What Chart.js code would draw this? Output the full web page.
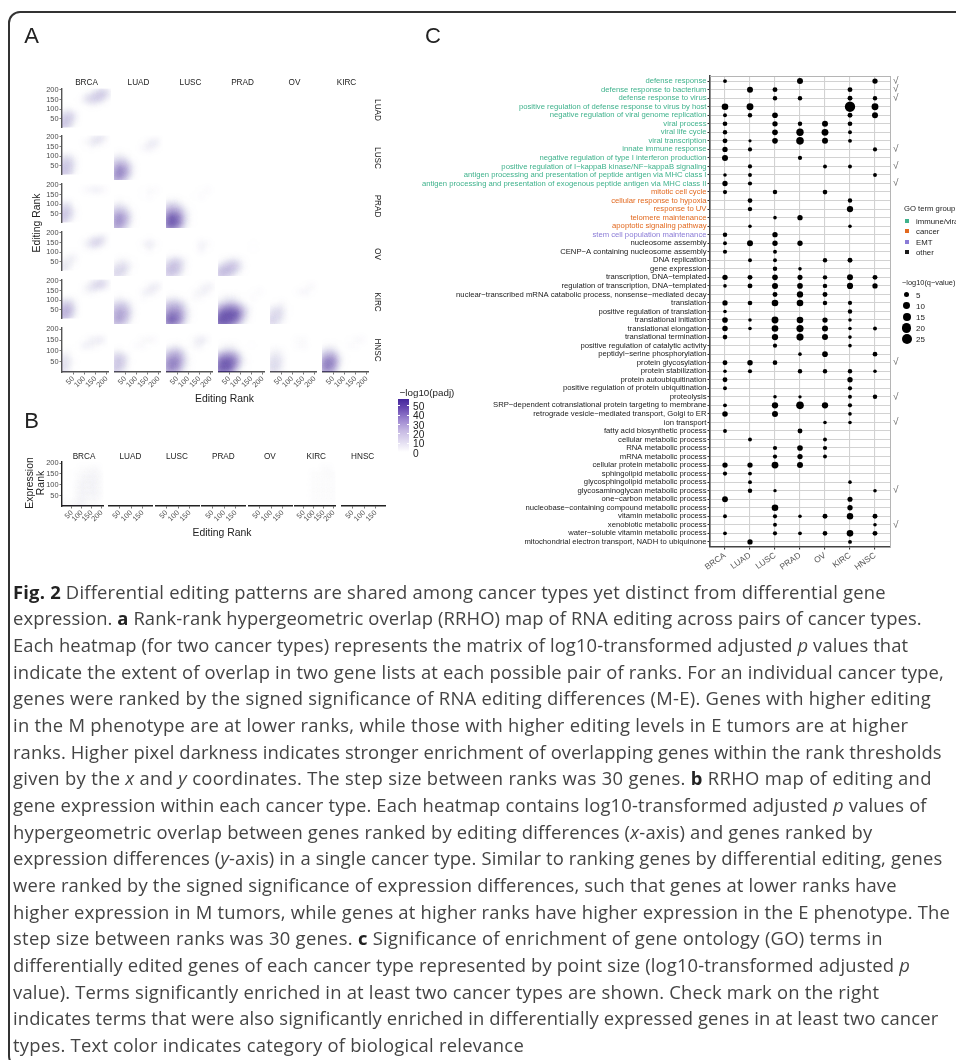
<!DOCTYPE html>
<html><head><meta charset="utf-8">
<script src="https://cdn.jsdelivr.net/npm/chart.js@4/dist/chart.umd.js"></script>
<style>
html,body{margin:0;padding:0;background:#fff;overflow:hidden;width:956px;height:1060px}
#page{position:relative;width:956px;height:1060px;overflow:hidden;font-family:"Liberation Sans",sans-serif;filter:blur(.3px)}
#frame{position:absolute;left:7.5px;top:10.5px;width:1000px;height:1057px;border:2px solid #333;border-radius:12px;box-sizing:border-box}
canvas{position:absolute}
.t{position:absolute;white-space:nowrap;transform:translate(-50%,-50%);color:#222}
.l{position:absolute;white-space:nowrap;transform:translate(0,-50%);color:#222}
.cap{position:absolute;left:13px;white-space:nowrap;font-family:"Open Sans",sans-serif;font-size:18.4px;color:#444;transform:translate(0,-50%);line-height:22px}
.cap b{color:#222}
</style></head><body><div id="page"><div id="frame"></div></div>
<script>
/* ---------- panel labels ---------- */
const cancers = ["BRCA","LUAD","LUSC","PRAD","OV","KIRC","HNSC"];
const rankTicks = [50,100,150,200];
const rankTicksShort = [50,100,150];
const gridRanks = [200,175,150,125,100,75,50,25,0]; // rows of every cell matrix, top to bottom
const gridCols  = [0,25,50,75,100,125,150,175,200];
const colorbarTicks = [50,40,30,20,10,0];
const sizeLegend = [5,10,15,20,25];

/* ---------- panel A: -log10(padj) cells, row cancer vs column cancer ---------- */
const Z=[0,0,0,0,0,0,0,0,0];
const LUAD_BRCA=[[0,0,0,0,0,1,4,8,3],[0,0,0,0,2,7,13,14,5],[0,0,0,1,8,12,12,6,0],[0,0,0,0,1,3,2,0,0],[0,2,1,0,0,0,0,0,0],[5,11,6,0,0,0,0,0,0],[9,14,7,0,0,0,0,0,0],[12,13,3,0,0,0,0,0,0],[12,8,1,0,0,0,0,0,0]];
const LUSC_BRCA=[[0,0,0,0,0,2,6,6,1],[0,0,0,0,2,6,8,3,0],[0,0,0,0,1,2,1,0,0],Z,[3,6,2,0,0,0,0,0,0],[8,12,5,0,0,0,0,0,0],[11,14,6,0,0,0,0,0,0],[12,13,4,0,0,0,0,0,0],[13,11,2,0,0,0,0,0,0]];
const LUSC_LUAD=[Z,[0,0,0,0,0,1,4,7,1],[0,0,0,0,0,3,6,2,0],[1,2,1,0,0,0,0,0,0],[6,9,6,1,0,0,0,0,0],[14,20,16,4,0,0,0,0,0],[22,38,24,6,0,0,0,0,0],[25,36,19,4,0,0,0,0,0],[22,20,8,1,0,0,0,0,0]];
const PRAD_BRCA=[Z,[0,0,0,0,2,4,5,3,0],Z,Z,[4,7,1,0,0,0,0,0,0],[9,11,3,0,0,0,0,0,0],[12,14,4,0,0,0,0,0,0],[13,9,2,0,0,0,0,0,0],[10,4,0,0,0,0,0,0,0]];
const PRAD_LUAD=[Z,[0,0,0,0,0,1,2,2,0],[0,0,0,0,0,1,2,0,0],[1,2,1,0,0,0,0,0,0],[6,9,5,1,0,0,0,0,0],[15,19,13,3,0,0,0,0,0],[24,34,20,4,0,0,0,0,0],[24,30,15,3,0,0,0,0,0],[23,20,8,1,0,0,0,0,0]];
const PRAD_LUSC=[Z,[0,0,0,0,0,0,1,2,0],[0,0,0,0,0,1,2,0,0],[2,4,3,1,0,0,0,0,0],[10,16,12,4,1,0,0,0,0],[20,30,26,10,2,0,0,0,0],[32,58,44,13,2,0,0,0,0],[38,66,42,11,2,0,0,0,0],[30,36,20,5,1,0,0,0,0]];
const OV_BRCA=[Z,[0,0,0,0,0,2,5,6,0],[0,0,0,0,3,10,14,6,0],[0,0,0,0,2,4,3,0,0],[0,1,1,0,0,0,0,0,0],[1,3,4,0,0,0,0,0,0],[3,6,3,0,0,0,0,0,0],[6,6,1,0,0,0,0,0,0],[5,2,0,0,0,0,0,0,0]];
const OV_LUAD=[Z,[0,0,0,0,0,0,1,0,0],[0,0,0,0,0,2,7,2,0],[0,0,0,0,0,1,3,1,0],Z,[1,3,3,1,0,0,0,0,0],[4,9,9,2,0,0,0,0,0],[9,12,7,1,0,0,0,0,0],[9,7,3,0,0,0,0,0,0]];
const OV_LUSC=[Z,Z,[0,0,0,0,0,0,4,2,0],[0,0,0,0,0,0,4,1,0],[0,1,1,0,0,0,0,0,0],[3,9,10,4,0,0,0,0,0],[10,17,16,5,0,0,0,0,0],[13,17,13,3,0,0,0,0,0],[11,10,6,1,0,0,0,0,0]];
const OV_PRAD=[Z,Z,[0,0,0,0,0,0,1,0,0],[0,0,0,0,0,0,1,0,0],Z,[0,2,5,6,2,0,0,0,0],[4,12,17,16,5,0,0,0,0],[14,19,18,9,2,0,0,0,0],[13,13,8,2,0,0,0,0,0]];
const KIRC_BRCA=[[0,0,0,0,0,2,6,8,2],[0,0,0,0,2,8,12,10,2],[0,0,0,0,3,5,2,0,0],Z,[3,6,3,0,0,0,0,0,0],[11,14,6,0,0,0,0,0,0],[15,20,8,0,0,0,0,0,0],[17,17,5,0,0,0,0,0,0],[16,10,2,0,0,0,0,0,0]];
const KIRC_LUAD=[Z,[0,0,0,0,0,0,3,7,2],[0,0,0,0,0,3,7,3,0],[1,2,1,0,0,2,1,0,0],[6,10,8,2,0,0,0,0,0],[14,19,16,4,0,0,0,0,0],[19,26,20,5,0,0,0,0,0],[20,26,15,3,0,0,0,0,0],[17,14,7,1,0,0,0,0,0]];
const KIRC_LUSC=[Z,[0,0,0,0,0,0,2,5,3],[0,0,0,0,0,2,5,4,0],[1,3,2,1,0,3,2,0,0],[9,13,12,6,1,0,0,0,0],[18,24,24,11,2,0,0,0,0],[26,38,36,15,3,0,0,0,0],[36,56,40,13,2,0,0,0,0],[30,36,22,6,1,0,0,0,0]];
const KIRC_PRAD=[Z,Z,[0,0,0,0,0,0,1,2,0],[1,3,4,3,1,1,2,0,0],[4,9,12,10,4,1,0,0,0],[16,30,38,32,16,5,0,0,0],[36,60,80,62,24,5,0,0,0],[55,78,74,44,14,3,0,0,0],[44,50,36,18,5,1,0,0,0]];
const KIRC_OV=[Z,[0,0,0,0,0,0,1,3,0],[0,0,0,0,0,2,4,1,0],Z,[0,1,2,0,0,0,0,0,0],[3,7,6,1,0,0,0,0,0],[7,11,8,1,0,0,0,0,0],[10,11,5,0,0,0,0,0,0],[9,7,2,0,0,0,0,0,0]];
const HNSC_BRCA=[Z,Z,[0,0,0,0,1,4,6,7,1],[0,0,0,1,5,5,3,0,0],[1,2,0,0,0,0,0,0,0],[6,6,1,0,0,0,0,0,0],[8,8,2,0,0,0,0,0,0],[9,7,1,0,0,0,0,0,0],[7,4,0,0,0,0,0,0,0]];
const HNSC_LUAD=[Z,Z,[0,0,0,0,0,2,3,3,0],[0,0,0,0,2,3,1,0,0],[2,3,1,0,0,0,0,0,0],[10,13,7,0,0,0,0,0,0],[13,17,9,1,0,0,0,0,0],[14,15,6,0,0,0,0,0,0],[12,8,2,0,0,0,0,0,0]];
const HNSC_LUSC=[Z,Z,[0,0,0,0,0,2,7,5,0],[1,2,3,1,0,3,5,1,0],[6,13,14,7,1,0,0,0,0],[16,26,28,14,2,0,0,0,0],[26,40,38,15,3,0,0,0,0],[26,40,30,10,2,0,0,0,0],[20,24,16,4,0,0,0,0,0]];
const HNSC_PRAD=[Z,Z,Z,[1,2,3,2,0,0,1,0,0],[3,8,10,8,2,0,0,0,0],[20,32,36,26,8,1,0,0,0],[38,60,68,40,10,2,0,0,0],[48,72,58,26,5,1,0,0,0],[36,44,30,10,1,0,0,0,0]];
const HNSC_OV=[Z,Z,[0,0,0,0,0,2,2,0,0],[0,0,0,0,0,2,3,0,0],[2,4,2,0,0,0,0,0,0],[5,8,5,0,0,0,0,0,0],[7,11,6,0,0,0,0,0,0],[8,11,5,0,0,0,0,0,0],[6,7,2,0,0,0,0,0,0]];
const HNSC_KIRC=[Z,Z,[0,0,0,0,0,1,2,3,0],[1,2,2,1,0,2,2,0,0],[5,10,9,2,0,0,0,0,0],[14,24,24,7,1,0,0,0,0],[26,44,38,9,1,0,0,0,0],[28,42,28,5,0,0,0,0,0],[22,24,14,2,0,0,0,0,0]];
const panelA=[[LUAD_BRCA],[LUSC_BRCA,LUSC_LUAD],[PRAD_BRCA,PRAD_LUAD,PRAD_LUSC],[OV_BRCA,OV_LUAD,OV_LUSC,OV_PRAD],[KIRC_BRCA,KIRC_LUAD,KIRC_LUSC,KIRC_PRAD,KIRC_OV],[HNSC_BRCA,HNSC_LUAD,HNSC_LUSC,HNSC_PRAD,HNSC_OV,HNSC_KIRC]];
const rowsA=["LUAD","LUSC","PRAD","OV","KIRC","HNSC"];
const colsA=["BRCA","LUAD","LUSC","PRAD","OV","KIRC"];

/* ---------- panel B ---------- */
const B_BRCA=[Z,[0,0,0,0,2,2,3,3,0],[0,0,1,2,3,4,4,4,2],[0,0,1,2,4,4,5,4,2],[0,0,1,3,5,4,5,4,2],[0,0,1,3,5,4,5,4,2],[0,0,1,3,5,4,4,4,2],[2,2,2,4,5,3,3,3,0],[3,3,3,4,5,2,2,2,0]];
const B_KIRC=[Z,[0,0,0,0,0,0,2,2,0],[0,0,0,0,2,2,2,3,2],[0,0,0,0,2,2,2,2,2],[0,0,0,0,2,2,2,2,2],[0,0,0,0,2,2,2,2,2],[0,0,0,0,2,2,2,2,2],[0,0,0,0,2,2,2,2,2],Z];
const panelB={BRCA:B_BRCA,KIRC:B_KIRC};

/* ---------- panel C ---------- */
const termNames=["defense response","defense response to bacterium","defense response to virus","positive regulation of defense response to virus by host","negative regulation of viral genome replication","viral process","viral life cycle","viral transcription","innate immune response","negative regulation of type I interferon production","positive regulation of I−kappaB kinase/NF−kappaB signaling","antigen processing and presentation of peptide antigen via MHC class I","antigen processing and presentation of exogenous peptide antigen via MHC class II","mitotic cell cycle","cellular response to hypoxia","response to UV","telomere maintenance","apoptotic signaling pathway","stem cell population maintenance","nucleosome assembly","CENP−A containing nucleosome assembly","DNA replication","gene expression","transcription, DNA−templated","regulation of transcription, DNA−templated","nuclear−transcribed mRNA catabolic process, nonsense−mediated decay","translation","positive regulation of translation","translational initiation","translational elongation","translational termination","positive regulation of catalytic activity","peptidyl−serine phosphorylation","protein glycosylation","protein stabilization","protein autoubiquitination","positive regulation of protein ubiquitination","proteolysis","SRP−dependent cotranslational protein targeting to membrane","retrograde vesicle−mediated transport, Golgi to ER","ion transport","fatty acid biosynthetic process","cellular metabolic process","RNA metabolic process","mRNA metabolic process","cellular protein metabolic process","sphingolipid metabolic process","glycosphingolipid metabolic process","glycosaminoglycan metabolic process","one−carbon metabolic process","nucleobase−containing compound metabolic process","vitamin metabolic process","xenobiotic metabolic process","water−soluble vitamin metabolic process","mitochondrial electron transport, NADH to ubiquinone"];
const termGroupCounts=[["immune/viral",13],["cancer",5],["EMT",1],["other",36]];
const groupColors={"immune/viral":"#3fb28c","cancer":"#e2691f","EMT":"#8a7bd6","other":"#1a1a1a"};
const checkedTerms=[0,1,2,8,10,12,33,37,40,48,52];
const qValues=[
[2,0,0,7,0,0,5],[0,7,4,0,0,4,0],[0,0,3,3,0,4,3],[9,10,0,0,0,27,10],[2,3,6,0,0,4,7],
[3.5,0,5,3,7,3.5,0],[3,0,6,12,10,2,0],[4,1,6,13,7,2,0],[5,2.5,0,0,0,0,2.5],[7,0,0,2.5,0,0,0],
[0,2.5,0,0,2,2,0],[1.5,2,0,0,0,0,2],[5,2.5,0,0,0,0,0],[2.5,0,3,0,3.5,0,0],[0,3.5,0,0,0,3,0],
[0,3,0,0,0,8,0],[0,0,1.5,5,0,0,0],[0,1.5,0,0,0,1.5,0],[3,0,5,0,0,0,0],[2,7,5,5,0,0,0],
[2.5,0,2,0,0,0,0],[0,2,2,0,3,4,0],[0,0,3,1.5,0,0,0],[5,4,6,4.5,3,7,4],[1.5,4,7,6,3,7.5,5],
[0,0,4,8,4,0,0],[5,3.5,9,9,3,2.5,0],[1.5,0,0,0,0,3,0],[6,1.5,10,9,5,1.5,0],[5.5,1.5,9,11,7,1.5,2],
[3.5,0,8,11,7,1.5,0],[0,0,2.5,0,0,1.5,0],[0,0,0,1.5,6,0,3.5],[4,5.5,3.5,0,0,0,0],[1.5,2.5,0,3,3,3,1.5],
[4,0,0,0,0,5,0],[2,0,0,0,0,2.5,0],[0,0,1.5,1.2,0,2,3],[2,0,8,13,8,2.5,0],[5.5,0,7,0,0,1.5,0],
[0,0,0,0,1.5,1.5,0],[2,0,0,4,0,0,0],[0,2,0,0,2,0,0],[0,0,2.5,6,2.5,0,0],[0,0,2.5,5,2,0,0],
[5,5,10,7,0,0,0],[2.5,2,0,0,0,0,0],[0,2,0,0,0,1.5,0],[0,3,1.2,0,0,0,1.5],[6.5,0,0,0,0,4.5,0],
[0,0,9,0,0,5,0],[2,0,2.5,1.5,4,8.5,4],[0,0,2,0,0,0,1.5],[1.8,0,2.5,1.8,3.5,9,4],[0,5,0,0,0,2,0]
];

/* ---------- caption ---------- */
const captionLines=[
"<b>Fig. 2</b> Differential editing patterns are shared among cancer types yet distinct from differential gene",
"expression. <b>a</b> Rank-rank hypergeometric overlap (RRHO) map of RNA editing across pairs of cancer types.",
"Each heatmap (for two cancer types) represents the matrix of log10-transformed adjusted <i>p</i> values that",
"indicate the extent of overlap in two gene lists at each possible pair of ranks. For an individual cancer type,",
"genes were ranked by the signed significance of RNA editing differences (M-E). Genes with higher editing",
"in the M phenotype are at lower ranks, while those with higher editing levels in E tumors are at higher",
"ranks. Higher pixel darkness indicates stronger enrichment of overlapping genes within the rank thresholds",
"given by the <i>x</i> and <i>y</i> coordinates. The step size between ranks was 30 genes. <b>b</b> RRHO map of editing and",
"gene expression within each cancer type. Each heatmap contains log10-transformed adjusted <i>p</i> values of",
"hypergeometric overlap between genes ranked by editing differences (<i>x</i>-axis) and genes ranked by",
"expression differences (<i>y</i>-axis) in a single cancer type. Similar to ranking genes by differential editing, genes",
"were ranked by the signed significance of expression differences, such that genes at lower ranks have",
"higher expression in M tumors, while genes at higher ranks have higher expression in the E phenotype. The",
"step size between ranks was 30 genes. <b>c</b> Significance of enrichment of gene ontology (GO) terms in",
"differentially edited genes of each cancer type represented by point size (log10-transformed adjusted <i>p</i>",
"value). Terms significantly enriched in at least two cancer types are shown. Check mark on the right",
"indicates terms that were also significantly enriched in differentially expressed genes in at least two cancer",
"types. Text color indicates category of biological relevance"];
const captionEnds=[885.7,921.7,908.3,944,931,908.3,941.7,931.7,926.7,872.3,942.3,896.7,950,882.7,910,879.3,938.3,524];

/* ---------- helpers ---------- */
const page=document.getElementById('page');
const FONT='"Liberation Sans", sans-serif';
function txt(s,x,y,size,o={}){const d=document.createElement('div');d.className=o.left?'l':'t';d.textContent=s;d.style.left=x+'px';d.style.top=y+'px';d.style.fontSize=size+'px';if(o.color)d.style.color=o.color;if(o.rot)d.style.transform=`translate(-50%,-50%) rotate(${o.rot}deg)`;if(o.weight)d.style.fontWeight=o.weight;page.appendChild(d);return d;}
function addCanvas(x,y,w,h){const c=document.createElement('canvas');c.width=w;c.height=h;c.style.left=x+'px';c.style.top=y+'px';c.style.width=w+'px';c.style.height=h+'px';page.appendChild(c);return c;}
const blurPlugin={id:'cellBlur',beforeDatasetsDraw(c){c.ctx.save();c.ctx.filter='blur(3.1px)';},afterDatasetsDraw(c){c.ctx.restore();}};
const axisGrey='#555', labelGrey='#4d4d4d';

function heat(x0,yBottom,w,h,matrix,o){
  const mL=o.showY?30:0, mB=o.showX?32:0, mT=5, mR=2;
  const cv=addCanvas(x0-mL,yBottom-h-mT,w+mL+mR,h+mT+mB);
  const pts=[];
  if(matrix) matrix.forEach((row,i)=>row.forEach((v,j)=>{if(v>0)pts.push({x:gridCols[j],y:gridRanks[i],v});}));
  new Chart(cv,{type:'scatter',plugins:[blurPlugin],
    data:{datasets:[{data:pts,pointStyle:'rect',borderWidth:0,
      pointRadius:c=>{const s=c.chart.scales.x;return Math.abs(s.getPixelForValue(25)-s.getPixelForValue(0))*0.72;},
      backgroundColor:c=>c.raw?`rgba(50,20,142,${Math.min(1,c.raw.v/58)})`:'transparent'}]},
    options:{responsive:false,animation:false,events:[],devicePixelRatio:1,
      layout:{autoPadding:false,padding:{left:0,right:mR,top:mT,bottom:0}},
      plugins:{legend:{display:false},tooltip:{enabled:false},title:{display:false}},
      scales:{
        x:{type:'linear',min:0,max:o.xMax,display:!!o.showX,
          afterBuildTicks:s=>{s.ticks=(o.xTicks||rankTicks).map(v=>({value:v}));},
          afterFit:s=>{s.height=mB;},
          grid:{drawOnChartArea:false,drawTicks:true,tickLength:2.5,tickColor:axisGrey,tickWidth:.8},
          border:{color:o.axisColor||axisGrey,width:1.4},
          ticks:{autoSkip:false,minRotation:45,maxRotation:45,padding:0,color:labelGrey,font:{family:FONT,size:7.4}}},
        y:{type:'linear',min:o.yMin,max:o.yMax,display:!!o.showY,
          afterBuildTicks:s=>{s.ticks=rankTicks.map(v=>({value:v}));},
          afterFit:s=>{s.width=mL;},
          grid:{drawOnChartArea:false,drawTicks:true,tickLength:2.5,tickColor:axisGrey,tickWidth:.8},
          border:{color:o.axisColor||axisGrey,width:1.4},
          ticks:{autoSkip:false,padding:1,color:labelGrey,font:{family:FONT,size:7.4}}}
      }}});
}

/* ---------- panel A ---------- */
txt('A',31.5,36,22,{color:'#222'});
colsA.forEach((n,c)=>txt(n,86.5+52*c,82,8.2));
rowsA.forEach((n,r)=>{txt(n,377,110+48*r,8.2,{rot:90});});
panelA.forEach((row,r)=>{
  const yb=Math.round(132.5+47.9*r);
  (r===5?[0,1,2,3,4,5]:row.map((_,i)=>i)).forEach(c=>{
    heat(62+52*c,yb,49,45,row[c],{showX:r===5,showY:c===0,xMax:208,yMin:3,yMax:208});
  });
});
txt('Editing Rank',36,223,10.4,{rot:-90});
txt('Editing Rank',224.5,397.5,10.4);

/* colour bar */
txt('−log10(padj)',427,391.5,9.8);
const cb=document.createElement('div');cb.style.cssText='position:absolute;left:398px;top:399px;width:11px;height:53px;background:linear-gradient(to top,#ffffff 0%,#e4dff2 18%,#c6b9e3 40%,#9a83cf 62%,#6a4bb3 82%,#43259b 100%)';page.appendChild(cb);
colorbarTicks.forEach((v,i)=>{
  const y=405.7+9.4*i;
  [398,407].forEach(xx=>{const m=document.createElement('div');m.style.cssText=`position:absolute;left:${xx}px;top:${y-.5}px;width:2px;height:1px;background:#fff`;page.appendChild(m);});
  txt(String(v),413,y,10.2,{left:true});
});

/* ---------- panel B ---------- */
txt('B',31.5,421,22,{color:'#222'});
cancers.forEach((n,c)=>{
  txt(n,84+46.45*c,455.7,8.2);
  const wide=(n==='BRCA'||n==='KIRC');
  heat(62+46.5*c|0,506,44,45,panelB[n],{showX:true,showY:c===0,xMax:wide?210:190,yMin:2,yMax:208,xTicks:wide?rankTicks:rankTicksShort,axisColor:'#222'});
});
txt('Expression',28.7,482.5,10.4,{rot:-90});
txt('Rank',39.5,482.5,10.4,{rot:-90});
txt('Editing Rank',222,531.5,10.4);

/* ---------- panel C ---------- */
txt('C',433,36,22,{color:'#222'});
const termColors=[];termGroupCounts.forEach(([g,n])=>{for(let i=0;i<n;i++)termColors.push(groupColors[g]);});
const radiusOf=v=>0.85*Math.sqrt(v)+0.75;
const bubbleData=[];
qValues.forEach((row,y)=>row.forEach((v,x)=>{if(v>0)bubbleData.push({x,y,r:radiusOf(v)});}));
const cX=400,cY=60,cW=556,cH=525;
const cvC=addCanvas(cX,cY,cW,cH);
const rowIdx=termNames.map((_,i)=>i), colIdx=cancers.map((_,i)=>i);
const lightGrid='#d2d2d2';
new Chart(cvC,{type:'bubble',
  data:{datasets:[{data:bubbleData,backgroundColor:'#000',borderWidth:0}]},
  options:{responsive:false,animation:false,events:[],devicePixelRatio:1,
    layout:{autoPadding:false,padding:{left:0,right:0,top:16,bottom:0}},
    plugins:{legend:{display:false},tooltip:{enabled:false}},
    scales:{
      x:{type:'linear',min:-0.6,max:6.6,position:'bottom',
        afterBuildTicks:s=>{s.ticks=colIdx.map(v=>({value:v}));},
        afterFit:s=>{s.height=cY+cH-547;},
        grid:{color:lightGrid,lineWidth:1.1,tickLength:2.5,tickColor:'#333'},
        border:{color:'#444',width:1.6},
        ticks:{autoSkip:false,minRotation:35,maxRotation:35,padding:1,color:'#555',font:{family:FONT,size:8.4},callback:v=>cancers[v]}},
      y:{type:'linear',reverse:true,min:-0.6,max:54.6,position:'left',
        afterBuildTicks:s=>{s.ticks=rowIdx.map(v=>({value:v}));},
        afterFit:s=>{s.width=710-cX;},
        grid:{color:lightGrid,lineWidth:1.1,tickLength:2.5,tickColor:'#333'},
        border:{color:'#444',width:1.6},
        ticks:{autoSkip:false,padding:1,font:{family:FONT,size:7.7},color:c=>termColors[c.index],callback:v=>termNames[v]}},
      y2:{type:'linear',reverse:true,min:-0.6,max:54.6,position:'right',
        afterBuildTicks:s=>{s.ticks=rowIdx.map(v=>({value:v}));},
        afterFit:s=>{s.width=cX+cW-890;},
        grid:{display:false,drawTicks:false},
        border:{color:'#b5b5b5',width:1},
        ticks:{autoSkip:false,padding:3,color:'#666',font:{family:FONT,size:10},callback:v=>checkedTerms.includes(v)?'√':''}},
      x2:{type:'linear',min:-0.6,max:6.6,position:'top',
        afterFit:s=>{s.height=0;},
        grid:{display:false,drawTicks:false},
        border:{color:'#b5b5b5',width:1},
        ticks:{display:false}}
    }}});

/* legends of panel C */
txt('GO term group',904,208,7.7,{left:true});
termGroupCounts.forEach(([g],i)=>{
  const y=220.7+10.4*i;
  const m=document.createElement('div');m.style.cssText=`position:absolute;left:905px;top:${y-2}px;width:4px;height:4px;background:${groupColors[g]}`;page.appendChild(m);
  txt(g,916,y,7.8,{left:true});
});
txt('−log10(q−value)',902,282,7.4,{left:true});
sizeLegend.forEach((v,i)=>{
  const y=294.7+11.1*i, r=radiusOf(v);
  const m=document.createElement('div');m.style.cssText=`position:absolute;left:${906.7-r}px;top:${y-r}px;width:${2*r}px;height:${2*r}px;border-radius:50%;background:#000`;page.appendChild(m);
  txt(String(v),916,y,8,{left:true});
});

/* ---------- caption ---------- */
captionLines.forEach((html,i)=>{
  const d=document.createElement('div');d.className='cap';d.innerHTML=html;d.style.top=(591.5+26.67*i)+'px';page.appendChild(d);
  const w=d.getBoundingClientRect().width, n=d.textContent.length;
  d.style.letterSpacing=((captionEnds[i]-13-w)/n).toFixed(3)+'px';
});
</script></body></html>
